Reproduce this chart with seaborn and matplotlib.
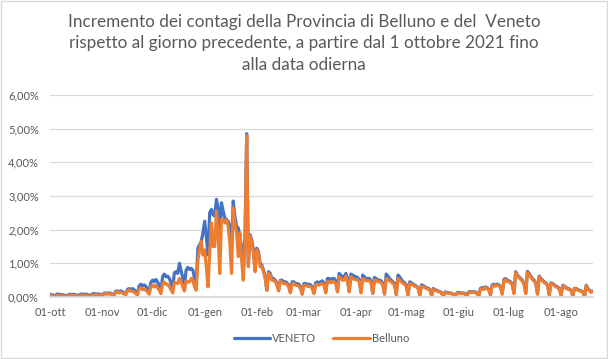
import numpy as np
import pandas as pd
import seaborn as sns
import matplotlib.pyplot as plt
import matplotlib.ticker as mticker
from matplotlib.patches import Rectangle

# daily increment (%) from 1 ottobre 2021, one row = one week (Fri..Thu)
veneto = [
    0.08, 0.07, 0.05, 0.02, 0.08, 0.09, 0.07,
    0.07, 0.06, 0.05, 0.02, 0.07, 0.08, 0.07,
    0.08, 0.07, 0.05, 0.02, 0.08, 0.09, 0.08,
    0.08, 0.08, 0.06, 0.03, 0.09, 0.10, 0.09,
    0.09, 0.09, 0.07, 0.03, 0.11, 0.12, 0.11,
    0.12, 0.11, 0.08, 0.05, 0.17, 0.18, 0.16,
    0.18, 0.16, 0.12, 0.07, 0.22, 0.25, 0.22,
    0.25, 0.22, 0.16, 0.10, 0.32, 0.38, 0.33,
    0.36, 0.32, 0.24, 0.15, 0.44, 0.50, 0.45,
    0.52, 0.45, 0.35, 0.20, 0.60, 0.68, 0.60,
    0.62, 0.55, 0.42, 0.28, 0.72, 0.75, 0.70,
    1.00, 0.78, 0.55, 0.35, 0.80, 0.88, 0.82,
    0.85, 0.80, 0.55, 0.40, 1.45, 1.55, 1.65,
    1.90, 2.25, 1.80, 1.25, 2.50, 2.60, 2.45,
    2.40, 2.90, 2.65, 1.60, 2.80, 2.55, 2.35,
    2.30, 2.25, 2.10, 1.40, 2.85, 2.40, 2.10,
    2.05, 1.80, 1.40, 1.15, 1.80, 4.85, 1.00,
    1.85, 1.70, 1.40, 0.80, 1.45, 1.35, 1.00,
    0.95, 0.80, 0.60, 0.20, 0.75, 0.70, 0.55,
    0.55, 0.50, 0.40, 0.20, 0.50, 0.50, 0.45,
    0.45, 0.42, 0.35, 0.15, 0.45, 0.45, 0.40,
    0.40, 0.38, 0.30, 0.10, 0.40, 0.40, 0.38,
    0.38, 0.36, 0.30, 0.12, 0.42, 0.45, 0.42,
    0.45, 0.48, 0.40, 0.15, 0.55, 0.55, 0.52,
    0.55, 0.55, 0.48, 0.18, 0.70, 0.65, 0.60,
    0.60, 0.70, 0.55, 0.20, 0.68, 0.65, 0.62,
    0.60, 0.58, 0.50, 0.15, 0.65, 0.60, 0.55,
    0.55, 0.55, 0.48, 0.12, 0.58, 0.55, 0.50,
    0.50, 0.48, 0.40, 0.10, 0.68, 0.62, 0.55,
    0.50, 0.45, 0.40, 0.08, 0.65, 0.60, 0.52,
    0.45, 0.42, 0.35, 0.08, 0.45, 0.42, 0.38,
    0.35, 0.32, 0.28, 0.06, 0.36, 0.34, 0.30,
    0.28, 0.26, 0.22, 0.05, 0.25, 0.22, 0.20,
    0.18, 0.16, 0.12, 0.03, 0.15, 0.14, 0.12,
    0.12, 0.11, 0.08, 0.02, 0.12, 0.14, 0.12,
    0.12, 0.12, 0.10, 0.03, 0.15, 0.16, 0.15,
    0.16, 0.15, 0.12, 0.04, 0.25, 0.28, 0.25,
    0.30, 0.28, 0.22, 0.08, 0.35, 0.38, 0.35,
    0.38, 0.36, 0.30, 0.10, 0.52, 0.55, 0.50,
    0.48, 0.45, 0.38, 0.12, 0.75, 0.65, 0.60,
    0.55, 0.50, 0.40, 0.12, 0.76, 0.70, 0.62,
    0.55, 0.50, 0.42, 0.10, 0.62, 0.55, 0.50,
    0.45, 0.42, 0.35, 0.08, 0.42, 0.40, 0.36,
    0.32, 0.30, 0.25, 0.06, 0.35, 0.32, 0.28,
    0.25, 0.24, 0.20, 0.05, 0.26, 0.25, 0.22,
    0.20, 0.18, 0.15, 0.03, 0.35, 0.25, 0.20,
    0.15, 0.18,
]

belluno = [
    0.05, 0.04, 0.02, 0.00, 0.04, 0.06, 0.04,
    0.04, 0.03, 0.03, 0.01, 0.05, 0.05, 0.04,
    0.05, 0.04, 0.03, 0.01, 0.04, 0.06, 0.05,
    0.05, 0.05, 0.03, 0.01, 0.06, 0.06, 0.06,
    0.07, 0.06, 0.04, 0.02, 0.09, 0.10, 0.08,
    0.10, 0.08, 0.06, 0.03, 0.14, 0.16, 0.12,
    0.14, 0.12, 0.09, 0.05, 0.18, 0.21, 0.17,
    0.17, 0.15, 0.10, 0.06, 0.23, 0.27, 0.22,
    0.24, 0.20, 0.15, 0.08, 0.30, 0.35, 0.30,
    0.35, 0.28, 0.20, 0.10, 0.40, 0.44, 0.38,
    0.38, 0.30, 0.22, 0.12, 0.44, 0.42, 0.40,
    0.55, 0.45, 0.30, 0.18, 0.48, 0.45, 0.45,
    0.55, 0.50, 0.30, 0.20, 1.10, 1.40, 1.65,
    1.25, 1.40, 0.90, 0.30, 1.30, 2.20, 1.50,
    1.50, 2.55, 1.90, 0.70, 2.30, 2.30, 2.20,
    2.30, 2.10, 1.60, 0.70, 2.65, 2.20, 1.90,
    1.20, 1.90, 1.10, 0.50, 1.50, 4.80, 0.90,
    1.80, 1.65, 1.30, 0.75, 1.40, 1.30, 0.90,
    0.90, 0.75, 0.55, 0.20, 0.70, 0.65, 0.50,
    0.50, 0.45, 0.35, 0.18, 0.48, 0.45, 0.40,
    0.40, 0.38, 0.30, 0.12, 0.40, 0.40, 0.35,
    0.35, 0.32, 0.25, 0.08, 0.35, 0.35, 0.32,
    0.32, 0.30, 0.25, 0.10, 0.35, 0.38, 0.35,
    0.38, 0.40, 0.35, 0.12, 0.45, 0.45, 0.42,
    0.45, 0.45, 0.40, 0.15, 0.60, 0.55, 0.50,
    0.50, 0.62, 0.45, 0.15, 0.60, 0.55, 0.52,
    0.52, 0.50, 0.45, 0.12, 0.55, 0.52, 0.48,
    0.48, 0.48, 0.42, 0.10, 0.50, 0.50, 0.45,
    0.45, 0.42, 0.35, 0.08, 0.55, 0.52, 0.48,
    0.45, 0.40, 0.35, 0.06, 0.55, 0.50, 0.45,
    0.40, 0.38, 0.30, 0.06, 0.40, 0.38, 0.35,
    0.32, 0.30, 0.25, 0.05, 0.32, 0.30, 0.28,
    0.25, 0.24, 0.20, 0.04, 0.22, 0.20, 0.18,
    0.16, 0.15, 0.10, 0.02, 0.13, 0.12, 0.11,
    0.10, 0.10, 0.07, 0.01, 0.10, 0.12, 0.10,
    0.10, 0.10, 0.08, 0.02, 0.13, 0.14, 0.13,
    0.14, 0.13, 0.10, 0.03, 0.22, 0.25, 0.22,
    0.28, 0.25, 0.20, 0.06, 0.32, 0.35, 0.32,
    0.35, 0.33, 0.28, 0.08, 0.48, 0.52, 0.46,
    0.45, 0.42, 0.35, 0.10, 0.72, 0.62, 0.58,
    0.52, 0.48, 0.38, 0.10, 0.72, 0.66, 0.60,
    0.52, 0.48, 0.40, 0.08, 0.60, 0.52, 0.48,
    0.42, 0.40, 0.33, 0.06, 0.40, 0.38, 0.34,
    0.30, 0.28, 0.22, 0.05, 0.33, 0.30, 0.26,
    0.23, 0.22, 0.18, 0.04, 0.25, 0.24, 0.20,
    0.18, 0.17, 0.14, 0.02, 0.33, 0.24, 0.18,
    0.14, 0.17,
]

month_labels = ['01-ott', '01-nov', '01-dic', '01-gen', '01-feb', '01-mar',
                '01-apr', '01-mag', '01-giu', '01-lug', '01-ago']
title = ('Incremento dei contagi della Provincia di Belluno e del  Veneto\n'
         'rispetto al giorno precedente, a partire dal 1 ottobre 2021 fino\n'
         'alla data odierna')

dates = pd.date_range('2021-10-01', periods=len(veneto), freq='D')
df = pd.DataFrame({'data': dates, 'VENETO': veneto, 'Belluno': belluno})
long = df.melt(id_vars='data', var_name='serie', value_name='incremento')

sns.set_theme(style='white')
plt.rcParams['font.family'] = ['Lato', 'DejaVu Sans']
grey = '#595959'

fig, ax = plt.subplots(figsize=(6.08, 3.59), dpi=100)
fig.subplots_adjust(left=0.0822, right=0.9753, top=0.7354, bottom=0.1727)

sns.lineplot(data=long, x='data', y='incremento', hue='serie',
             palette={'VENETO': '#4472C4', 'Belluno': '#ED7D31'},
             linewidth=2.3, ax=ax)

ax.set_ylim(0, 6)
ax.set_xlim(dates[0], dates[-1])
ax.yaxis.set_major_locator(mticker.MultipleLocator(1))
ax.yaxis.set_major_formatter(mticker.FuncFormatter(
    lambda v, p: f'{v:.2f}%'.replace('.', ',')))
ax.grid(axis='y', color='#d9d9d9', linewidth=0.9)
ax.set_axisbelow(True)

month_starts = pd.date_range('2021-10-01', periods=len(month_labels), freq='MS')
ax.set_xticks(month_starts)
ax.set_xticklabels(month_labels)
ax.tick_params(axis='x', length=4, width=0.9, colors='#d9d9d9',
               labelsize=8, pad=3, labelcolor=grey)
ax.tick_params(axis='y', length=0, labelsize=8, labelcolor=grey, pad=8)
for s in ['top', 'right', 'left']:
    ax.spines[s].set_visible(False)
ax.spines['bottom'].set_color('#d9d9d9')
ax.set_xlabel('')
ax.set_ylabel('')

ax.legend(loc='upper center', bbox_to_anchor=(0.5, -0.13), ncol=2,
          frameon=False, fontsize=8, labelcolor=grey, handlelength=3.3,
          handletextpad=0.2, columnspacing=1.5)

fig.suptitle(title, y=0.962, fontsize=12.3, color=grey, linespacing=1.45)

fig.patches.append(Rectangle((0.002, 0.003), 0.996, 0.994, transform=fig.transFigure,
                             fill=False, edgecolor='#d9d9d9', linewidth=1))

fig.savefig('out.png', dpi=100)
